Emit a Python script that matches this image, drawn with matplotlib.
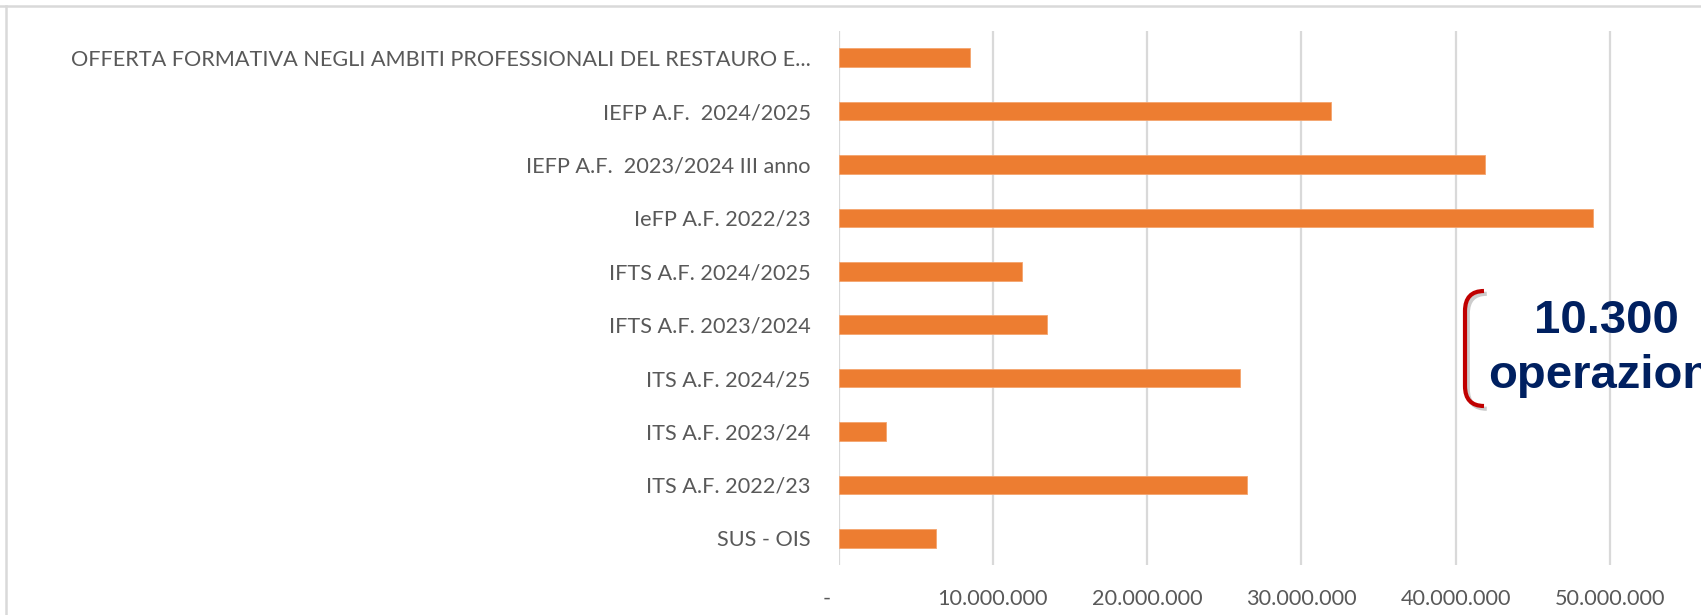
import matplotlib
matplotlib.use("Agg")
import matplotlib.pyplot as plt
import matplotlib.patheffects as pe
from matplotlib.path import Path
from matplotlib.patches import PathPatch
from matplotlib.lines import Line2D
from matplotlib.transforms import Affine2D
from matplotlib.ticker import FuncFormatter

# Data (top to bottom, as shown in the chart)
categories = [
    "OFFERTA FORMATIVA NEGLI AMBITI PROFESSIONALI DEL RESTAURO E...",
    "IEFP A.F.  2024/2025",
    "IEFP A.F.  2023/2024 III anno",
    "IeFP A.F. 2022/23",
    "IFTS A.F. 2024/2025",
    "IFTS A.F. 2023/2024",
    "ITS A.F. 2024/25",
    "ITS A.F. 2023/24",
    "ITS A.F. 2022/23",
    "SUS - OIS",
]
values = [8.5e6, 31.9e6, 41.9e6, 48.9e6, 11.9e6, 13.5e6, 26.0e6, 3.1e6, 26.45e6, 6.3e6]
xticks = [0, 10e6, 20e6, 30e6, 40e6, 50e6]
note_lines = ["10.300", "operazioni"]

W, H = 1701, 615
plt.rcParams['font.family'] = ['Lato', 'DejaVu Sans']

fig = plt.figure(figsize=(W / 100, H / 100), dpi=100)
fig.patch.set_facecolor('white')

# pixel coords (top-left origin) -> figure
px = Affine2D().scale(1 / W, -1 / H).translate(0, 1) + fig.transFigure

# plot area (runs off the right edge, like the cropped slide)
x0, x1, ytop, ybot = 838.5, 838.5 + 6 * 154.3, 31, 565
ax = fig.add_axes([x0 / W, 1 - ybot / H, (x1 - x0) / W, (ybot - ytop) / H])

ypos = range(len(categories))
ax.barh(ypos, values, height=0.35, color='#ED7D31', edgecolor='#F4A46E',
        linewidth=0.6, zorder=3)
ax.set_ylim(len(categories) - 0.5, -0.5)
ax.set_xlim(0, 60e6)

ax.set_yticks(list(ypos))
ax.set_yticklabels(categories)
ax.set_xticks(xticks)
ax.xaxis.set_major_formatter(FuncFormatter(
    lambda v, p: "-    " if v == 0 else f"{int(v):,}".replace(",", ".")))

ax.tick_params(axis='y', length=0, pad=20, labelsize=15.6, labelcolor='#595959')
ax.tick_params(axis='x', length=0, pad=17, labelsize=15.6, labelcolor='#595959')

ax.grid(axis='x', color='#D9D9D9', linewidth=1.6, zorder=0)
ax.axvline(60e6, color='#D9D9D9', linewidth=1.6, zorder=0)
for s in ax.spines.values():
    s.set_visible(False)

# slide border
fig.add_artist(Line2D([0, W], [5.5, 5.5], transform=px, color='#D9D9D9', lw=1.8))
fig.add_artist(Line2D([5.5, 5.5], [5.5, H], transform=px, color='#D9D9D9', lw=1.8))

# red bracket
verts = [(1484, 291), (1465, 291), (1465, 311), (1465, 386),
         (1465, 406), (1484, 406)]
codes = [Path.MOVETO, Path.CURVE3, Path.CURVE3, Path.LINETO,
         Path.CURVE3, Path.CURVE3]
bracket = PathPatch(Path(verts, codes), transform=px, fill=False,
                    edgecolor='#C00000', lw=3, capstyle='butt',
                    path_effects=[pe.SimpleLineShadow(offset=(2, -2), shadow_color='#808080', alpha=0.4),
                                  pe.Normal()])
fig.add_artist(bracket)

# annotation
for txt, base in zip(note_lines, [333, 388]):
    fig.text(1606, base, txt, transform=px, ha='center', va='baseline',
             fontsize=34, fontweight='bold', color='#002060',
             family=['Liberation Sans', 'DejaVu Sans'])

fig.savefig("out.png", dpi=100)
